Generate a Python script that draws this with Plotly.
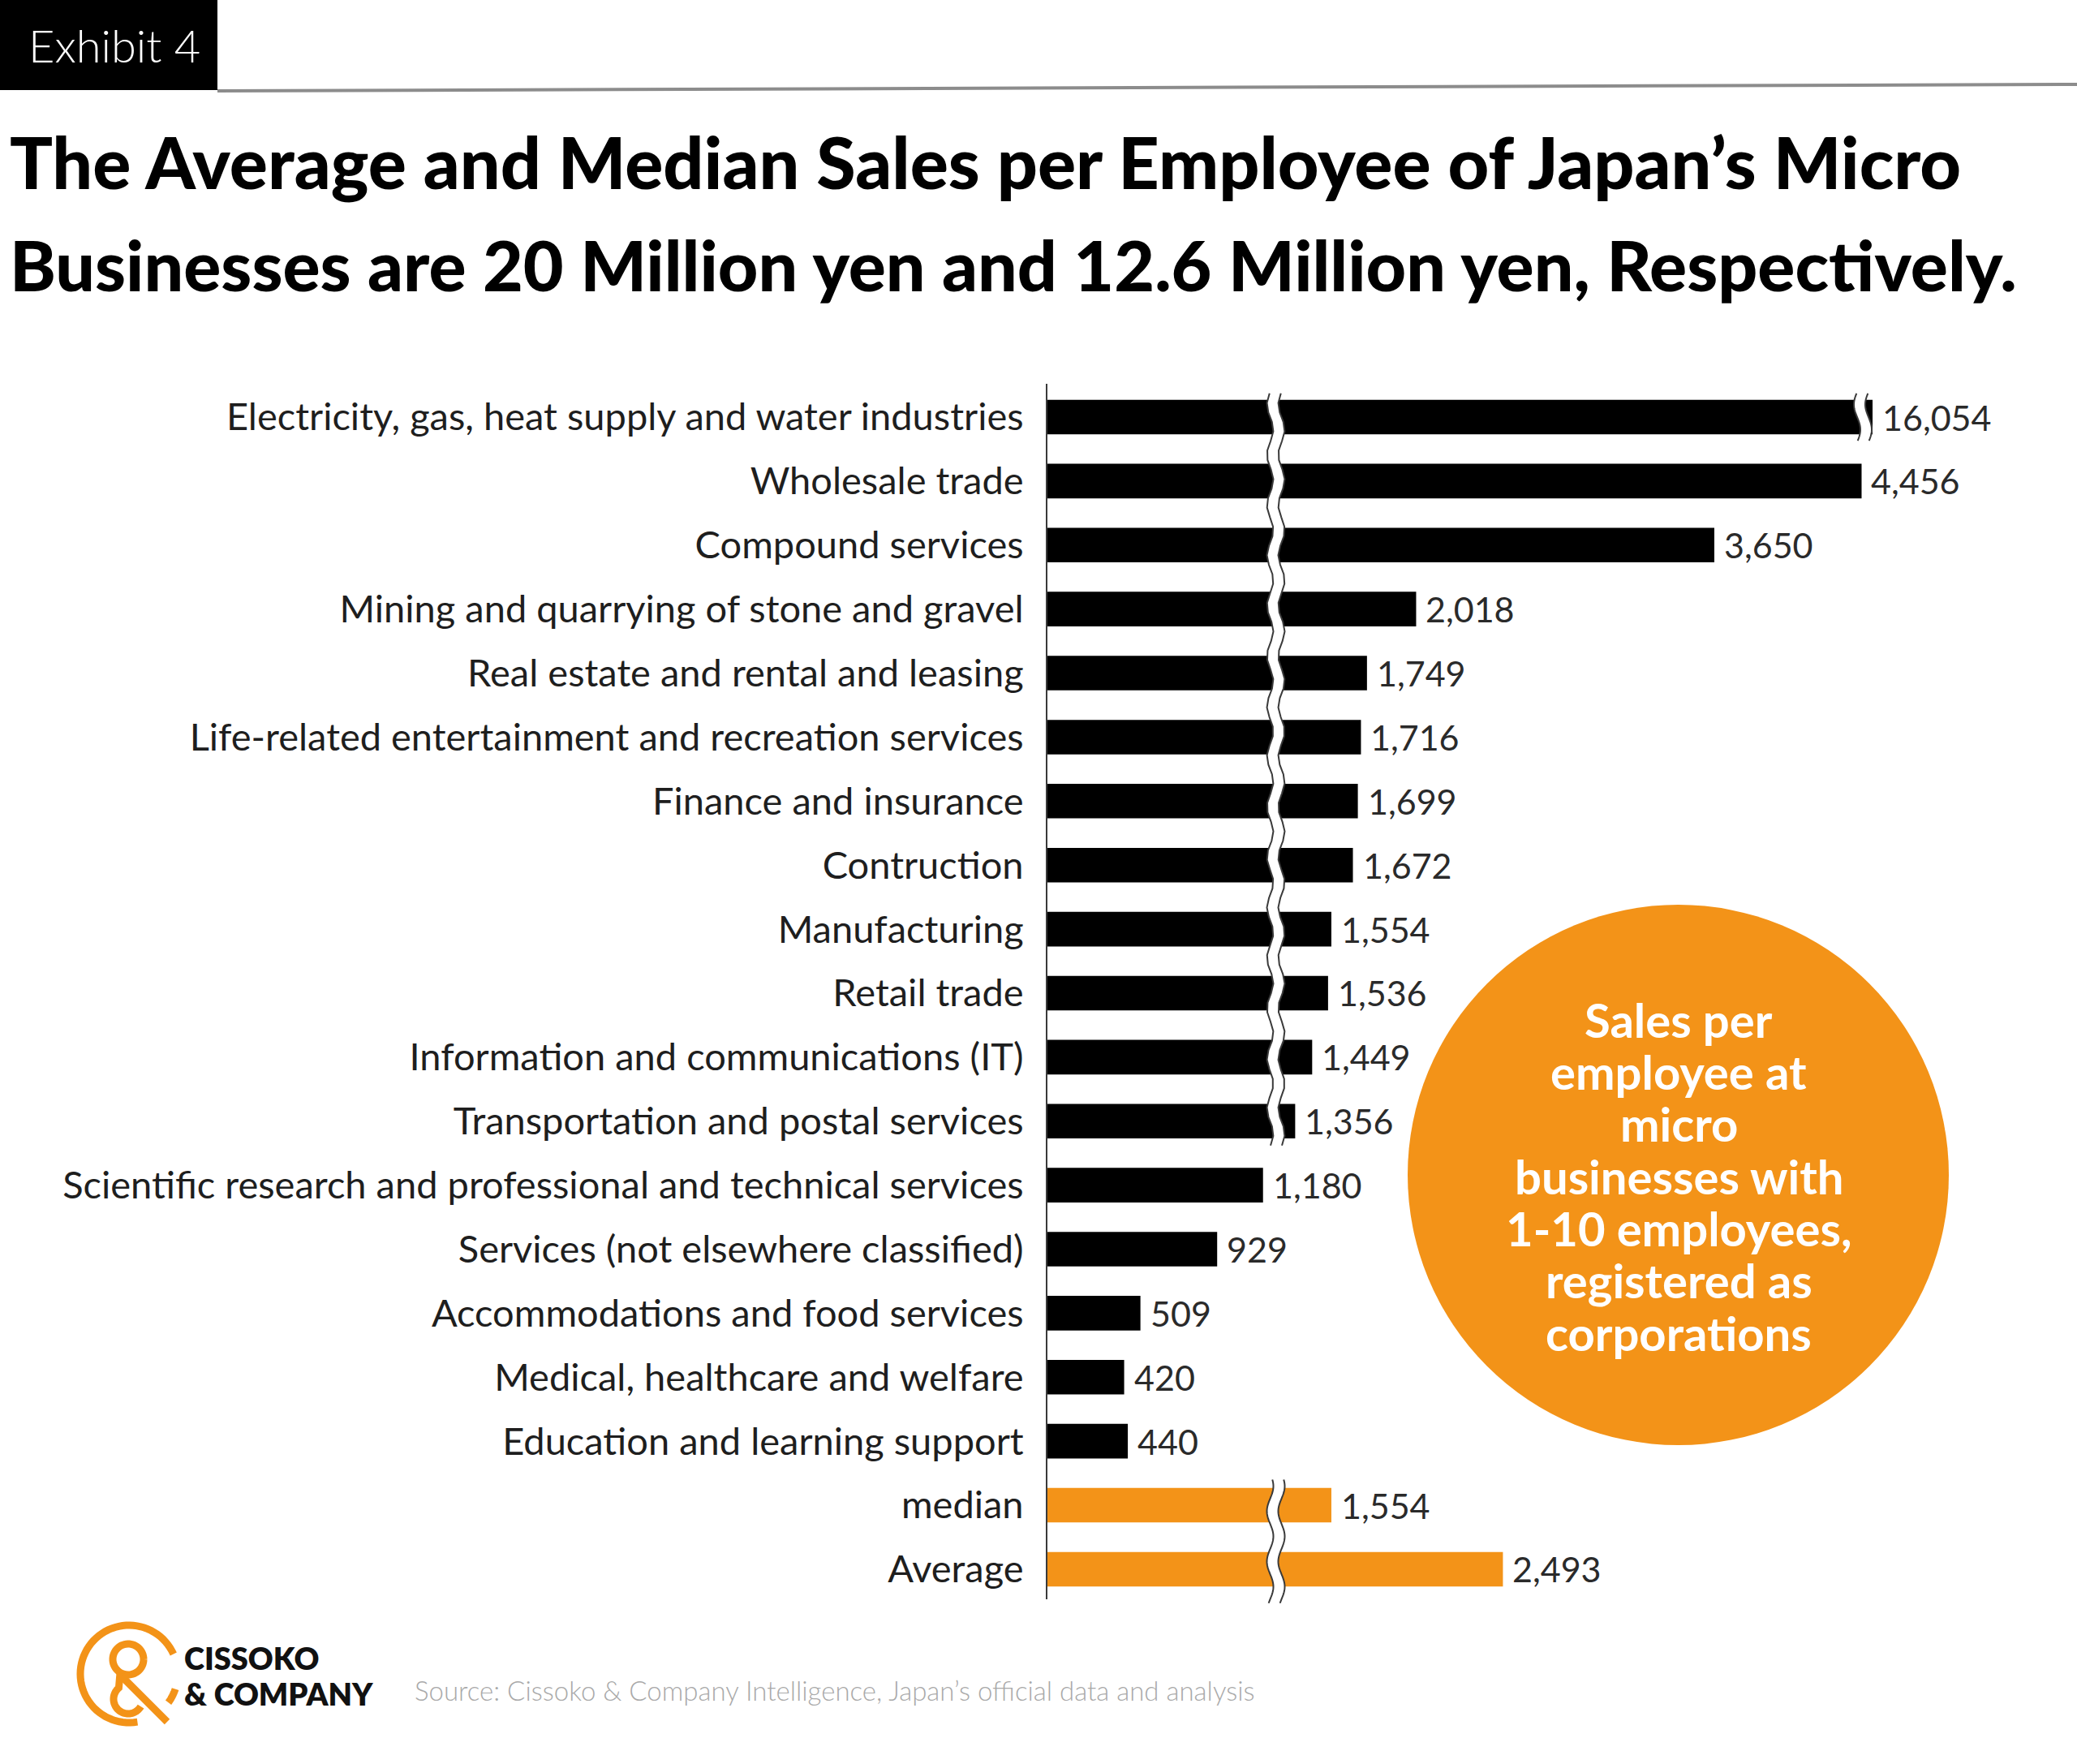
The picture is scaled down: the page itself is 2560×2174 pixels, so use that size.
import numpy as np
import plotly.graph_objects as go

# ---------------- data ----------------
categories = [
    "Electricity, gas, heat supply and water industries",
    "Wholesale trade",
    "Compound services",
    "Mining and quarrying of stone and gravel",
    "Real estate and rental and leasing",
    "Life-related entertainment and recreation services",
    "Finance and insurance",
    "Contruction",
    "Manufacturing",
    "Retail trade",
    "Information and communications (IT)",
    "Transportation and postal services",
    "Scientific research and professional and technical services",
    "Services (not elsewhere classified)",
    "Accommodations and food services",
    "Medical, healthcare and welfare",
    "Education and learning support",
    "median",
    "Average",
]
values = [16054, 4456, 3650, 2018, 1749, 1716, 1699, 1672, 1554, 1536,
          1449, 1356, 1180, 929, 509, 420, 440, 1554, 2493]
highlight = ["median", "Average"]

title_lines = [
    "The Average and Median Sales per Employee of Japan\u2019s Micro",
    "Businesses are 20 Million yen and 12.6 Million yen, Respectively.",
]
circle_lines = ["Sales per", "employee at", "micro", "businesses with",
                "1-10 employees,", "registered as", "corporations"]
source_text = "Source: Cissoko & Company Intelligence, Japan\u2019s official data and analysis"

# ---------------- layout constants ----------------
W, H = 2560, 2174
L, R, T, B = 1291, 252, 473, 203
PW, PH = W - L - R, H - T - B
XMAX = 4516
YR = [18.47, -0.52]
BREAK_AT = 1250
ORANGE = "#F39318"
LABEL_FONT = "Lato, 'Noto Sans', sans-serif"

def pxx(px):
    return (px - L) / PW

def pxy(py):
    return (H - B - py) / PH

def rowp(i):
    return (YR[0] - i) / (YR[0] - YR[1])

UNIT = PW / XMAX  # pixels per data unit

colors = [ORANGE if c in highlight else "#000000" for c in categories]

fig = go.Figure()
fig.add_trace(go.Bar(
    x=values, y=categories, orientation="h",
    marker=dict(color=colors, line=dict(width=0)),
    width=0.54, hoverinfo="skip", showlegend=False,
))

shapes = []
annotations = []

# value labels
for c, v in zip(categories, values):
    annotations.append(dict(
        x=min(v, XMAX), y=c, xref="x", yref="y", text=f"{v:,}",
        showarrow=False, xanchor="left", yanchor="middle", xshift=10,
        font=dict(family=LABEL_FONT, size=43, color="#2a2a2a"),
    ))

# ---------------- axis break marks ----------------
def wave_pts(xc_data, y_top, y_bot, amp_px=4.0, period_px=62.0):
    n = 80
    ys = np.linspace(y_top, y_bot, n)  # paper coords
    pts = []
    for yy in ys:
        ypx = yy * PH
        xx = xc_data + (amp_px * np.sin(2 * np.pi * ypx / period_px)) / UNIT
        pts.append((xx, yy))
    return pts

def add_break(xc_data, i_top, i_bot, half_gap_px=7.0):
    y_top = rowp(i_top)
    y_bot = rowp(i_bot)
    off = half_gap_px / UNIT
    left = wave_pts(xc_data - off, y_top, y_bot)
    right = wave_pts(xc_data + off, y_top, y_bot)
    poly = left + right[::-1]
    path = "M " + " L ".join(f"{x:.3f},{y:.5f}" for x, y in poly) + " Z"
    shapes.append(dict(type="path", path=path, xref="x", yref="paper",
                       fillcolor="white", line=dict(width=0), layer="above"))
    for side in (left, right):
        p = "M " + " L ".join(f"{x:.3f},{y:.5f}" for x, y in side)
        shapes.append(dict(type="path", path=p, xref="x", yref="paper",
                           line=dict(color="#3a3a3a", width=2), layer="above"))

add_break(BREAK_AT, -0.37, 11.38)
add_break(BREAK_AT, 16.6, 18.53)
add_break((2296 - L) / UNIT, -0.37, 0.37)

# ---------------- header ----------------
shapes.append(dict(type="rect", xref="paper", yref="paper",
                   x0=pxx(0), x1=pxx(268), y0=pxy(111), y1=pxy(0),
                   fillcolor="#000000", line=dict(width=0), layer="above"))
shapes.append(dict(type="line", xref="paper", yref="paper",
                   x0=pxx(268), x1=pxx(2560), y0=pxy(112), y1=pxy(104),
                   line=dict(color="#8c8c8c", width=4)))
annotations.append(dict(
    x=pxx(141), y=pxy(55), xref="paper", yref="paper", text="Exhibit 4",
    showarrow=False, xanchor="center", yanchor="middle",
    font=dict(family=LABEL_FONT, size=56, color="white", weight=300),
))
for line, yc, fs in zip(title_lines, [199, 326], [88, 86]):
    annotations.append(dict(
        x=pxx(10), y=pxy(yc), xref="paper", yref="paper", text=line,
        showarrow=False, xanchor="left", yanchor="middle",
        font=dict(family=LABEL_FONT, size=fs, color="#000000", weight=900),
    ))

# ---------------- orange circle ----------------
shapes.append(dict(type="circle", xref="paper", yref="paper",
                   x0=pxx(1735), x1=pxx(2402), y0=pxy(1781), y1=pxy(1115),
                   fillcolor=ORANGE, line=dict(width=0), layer="above"))
line_y = np.linspace(1256, 1642, len(circle_lines))
for line, yc in zip(circle_lines, line_y):
    annotations.append(dict(
        x=pxx(2069), y=pxy(yc), xref="paper", yref="paper", text=line,
        showarrow=False, xanchor="center", yanchor="middle",
        font=dict(family=LABEL_FONT, size=58, color="white", weight=700),
    ))

# ---------------- footer: logo + source ----------------
def pxpath(points, close=False):
    s = "M " + " L ".join(f"{pxx(x):.5f},{pxy(y):.5f}" for x, y in points)
    return s + (" Z" if close else "")

def arc(cx, cy, r, a0, a1, n=60):
    angs = np.radians(np.linspace(a0, a1, n))
    return [(cx + r * np.cos(a), cy - r * np.sin(a)) for a in angs]

logo_line = dict(color=ORANGE, width=9)
shapes.append(dict(type="path", xref="paper", yref="paper",
                   path=pxpath(arc(159, 2063, 60, 24, 280)), line=logo_line))
shapes.append(dict(type="path", xref="paper", yref="paper",
                   path=pxpath(arc(159, 2063, 60, -18, -36)), line=logo_line))
shapes.append(dict(type="path", xref="paper", yref="paper",
                   path=pxpath(arc(158, 2045, 19, 0, 360)), line=logo_line))
shapes.append(dict(type="path", xref="paper", yref="paper",
                   path=pxpath([(148, 2062)] + arc(158, 2094, 18, 130, 330)), line=logo_line))
shapes.append(dict(type="path", xref="paper", yref="paper",
                   path=pxpath([(150, 2066), (206, 2122)]), line=logo_line))

annotations.append(dict(
    x=pxx(225), y=pxy(2043), xref="paper", yref="paper", text="CISSOKO",
    showarrow=False, xanchor="left", yanchor="middle",
    font=dict(family=LABEL_FONT, size=38, color="#111111", weight=800),
))
annotations.append(dict(
    x=pxx(225), y=pxy(2087), xref="paper", yref="paper", text="&amp; COMPANY",
    showarrow=False, xanchor="left", yanchor="middle",
    font=dict(family=LABEL_FONT, size=38, color="#111111", weight=800),
))
annotations.append(dict(
    x=pxx(509), y=pxy(2083), xref="paper", yref="paper", text=source_text,
    showarrow=False, xanchor="left", yanchor="middle",
    font=dict(family=LABEL_FONT, size=33, color="#a9a9a9", weight=300),
))

fig.update_layout(
    width=W, height=H,
    margin=dict(l=L, r=R, t=T, b=B, pad=0),
    paper_bgcolor="white", plot_bgcolor="white",
    shapes=shapes, annotations=annotations,
    xaxis=dict(range=[0, XMAX], visible=False, showgrid=False, zeroline=False, fixedrange=True),
    yaxis=dict(
        type="category", range=YR, showgrid=False, zeroline=False,
        showline=True, linecolor="#3a3a3a", linewidth=2,
        ticks="", ticklabelstandoff=18,
        tickfont=dict(family=LABEL_FONT, size=47, color="#1e1e1e"),
        fixedrange=True,
    ),
    bargap=0.46,
)

fig.write_html("out.html")
